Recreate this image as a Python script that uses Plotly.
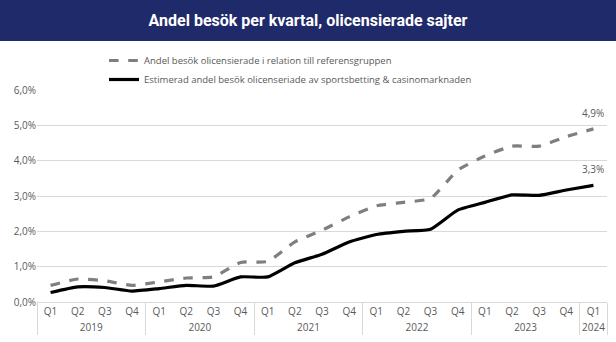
import plotly.graph_objects as go

years = ["2019"] * 4 + ["2020"] * 4 + ["2021"] * 4 + ["2022"] * 4 + ["2023"] * 4 + ["2024"]
quarters = ["Q1", "Q2", "Q3", "Q4"] * 5 + ["Q1"]

ref_share = [0.47, 0.65, 0.60, 0.47, 0.57, 0.68, 0.71, 1.12, 1.15, 1.70, 2.03,
             2.41, 2.72, 2.82, 2.93, 3.73, 4.13, 4.41, 4.41, 4.68, 4.90]
est_share = [0.27, 0.43, 0.41, 0.31, 0.38, 0.47, 0.45, 0.71, 0.71, 1.11, 1.35,
             1.70, 1.91, 2.00, 2.06, 2.60, 2.82, 3.03, 3.02, 3.17, 3.30]

name_ref = "Andel besök olicensierade i relation till referensgruppen"
name_est = "Estimerad andel besök olicenseriade av sportsbetting & casinomarknaden"
title_text = "Andel besök per kvartal, olicensierade sajter"

W, H = 616, 342
ml, mr, mt, mb = 37, 9, 90, 40
pw = W - ml - mr
ph = H - mt - mb
n = len(quarters)


def fmt(v):
    return f"{v:.1f}".replace(".", ",") + "%"


fig = go.Figure()
fig.add_trace(go.Scatter(
    x=[years, quarters], y=ref_share, name=name_ref, mode="lines",
    line=dict(color="#7f7f7f", width=3.2, dash="dash", shape="spline", smoothing=0.5),
))
fig.add_trace(go.Scatter(
    x=[years, quarters], y=est_share, name=name_est, mode="lines",
    line=dict(color="#000000", width=3.2, shape="spline", smoothing=0.5),
))

for v in (ref_share[-1], est_share[-1]):
    fig.add_annotation(x=n - 1, y=v, text=fmt(v), showarrow=False,
                       yanchor="bottom", yshift=7,
                       font=dict(family="Open Sans, sans-serif", size=10, color="#595959"))

fig.add_shape(type="rect", xref="paper", yref="paper",
              x0=-ml / pw, x1=1 + mr / pw,
              y0=(ph + mt - 41) / ph, y1=(ph + mt) / ph,
              fillcolor="#1f2a6b", line=dict(width=0), layer="above")

fig.update_layout(
    width=W, height=H,
    margin=dict(l=ml, r=mr, t=mt, b=mb),
    paper_bgcolor="white", plot_bgcolor="white",
    separators=", ",
    title=dict(text=title_text, x=0.5, xref="container", xanchor="center",
               y=1 - 20 / H, yref="container", yanchor="middle",
               font=dict(family="Roboto, sans-serif", size=16, color="white", weight="bold")),
    legend=dict(x=(104 - ml) / pw, y=(ph + mt - 46) / ph, xanchor="left", yanchor="top",
                orientation="v", font=dict(family="Open Sans, sans-serif", size=9.5, color="#595959"),
                bgcolor="rgba(0,0,0,0)", tracegroupgap=2, itemwidth=30),
    showlegend=True,
    xaxis=dict(type="multicategory", range=[-0.5, n - 0.5], showgrid=False, showline=True,
               linecolor="#d9d9d9", linewidth=1, showdividers=True, dividercolor="#d9d9d9",
               dividerwidth=1, mirror=False,
               tickfont=dict(family="Open Sans, sans-serif", size=10, color="#595959"),
               ticks=""),
    yaxis=dict(range=[0, 6], dtick=1, tickformat=".1f", ticksuffix="%",
               showgrid=True, gridcolor="#d9d9d9", gridwidth=1, zeroline=False,
               tickfont=dict(family="Open Sans, sans-serif", size=10, color="#595959"),
               ticks="", fixedrange=True),
)

fig.write_html("out.html")
